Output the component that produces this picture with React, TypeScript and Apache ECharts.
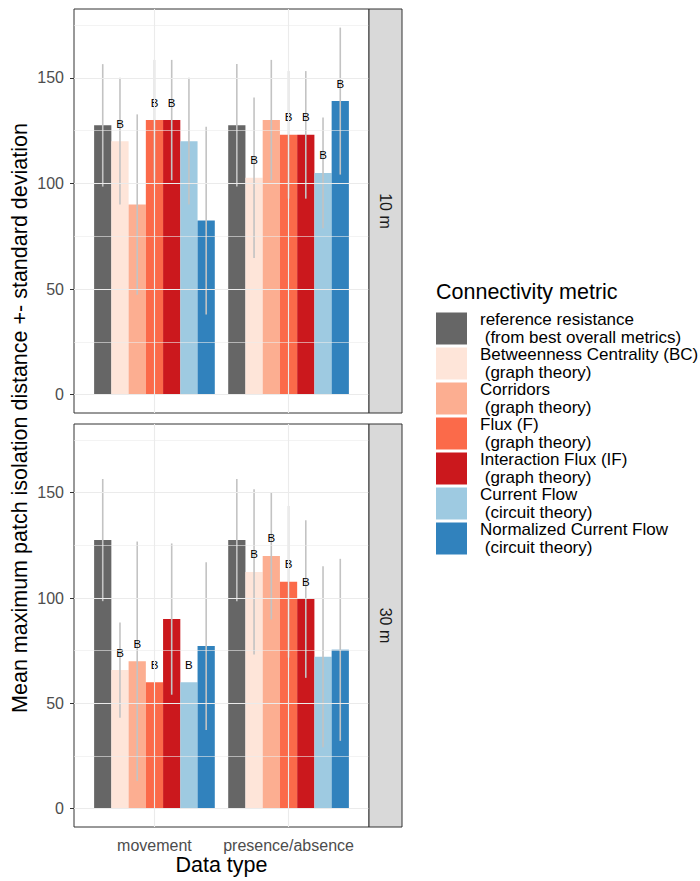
import React, { useEffect, useRef } from 'react';
import * as echarts from 'echarts';

// ---------- data ----------
const categories = ['movement', 'presence/absence'];
const panels = ['10 m', '30 m'];
const metrics = [
  'reference resistance\n (from best overall metrics)',
  'Betweenness Centrality (BC)\n (graph theory)',
  'Corridors\n (graph theory)',
  'Flux (F)\n (graph theory)',
  'Interaction Flux (IF)\n (graph theory)',
  'Current Flow\n (circuit theory)',
  'Normalized Current Flow\n (circuit theory)',
];
const colors = ['#666666', '#FEE5D9', '#FCAE91', '#FB6A4A', '#CB181D', '#9ECAE1', '#3182BD'];

// 10 m panel
const mean10Movement = [127.5, 120, 90, 130, 130, 120, 82.4];
const sd10Movement = [29, 30, 42.7, 28.5, 28.5, 30, 44.5];
const sig10Movement = ['', 'B', '', 'B', 'B', '', ''];
const mean10Presence = [127.5, 102.7, 130, 123, 123, 105, 139];
const sd10Presence = [29, 38, 28.5, 30.2, 30.2, 26.2, 34.8];
const sig10Presence = ['', 'B', '', 'B', 'B', 'B', 'B'];

// 30 m panel
const mean30Movement = [127.5, 65.8, 70, 60, 90, 60, 77.2];
const sd30Movement = [29, 22.6, 56.8, 0, 35.9, 0, 39.8];
const sig30Movement = ['', 'B', 'B', 'B', '', 'B', ''];
const mean30Presence = [127.5, 112.4, 120, 107.7, 99.5, 72.1, 75.4];
const sd30Presence = [29, 39.2, 30.2, 36, 37.4, 43, 43.2];
const sig30Presence = ['', 'B', 'B', 'B', 'B', '', ''];

const yMajorTicks = [0, 50, 100, 150];
const yMinorTicks = [25, 75, 125, 175];
const yMin = -8.7;
const yMax = 182.6;

const panelData = [
  { means: [mean10Movement, mean10Presence], sds: [sd10Movement, sd10Presence], sigs: [sig10Movement, sig10Presence] },
  { means: [mean30Movement, mean30Presence], sds: [sd30Movement, sd30Presence], sigs: [sig30Movement, sig30Presence] },
];

// ---------- layout ----------
const FONT = 'Liberation Sans, Arial, Helvetica, sans-serif';
const FRAME_LEFT = 74;
const FRAME_WIDTH = 295;
const PANEL_TOPS = [9, 424];
const PANEL_HEIGHTS = [404, 403];
const X_MIN = 0.4;
const X_MAX = 2.6;
const BAR_LEFT = FRAME_LEFT + ((0.5 - X_MIN) / (X_MAX - X_MIN)) * FRAME_WIDTH;
const BAR_WIDTH = (2 / (X_MAX - X_MIN)) * FRAME_WIDTH;
const STRIP_W = 33;

export default function App() {
  const ref = useRef<HTMLDivElement>(null);

  useEffect(() => {
    if (!ref.current) return;
    const chart = echarts.init(ref.current, null, { renderer: 'svg' });

    const grid: any[] = [];
    const xAxis: any[] = [];
    const yAxis: any[] = [];
    const series: any[] = [];
    const graphic: any[] = [];

    panelData.forEach((pd, p) => {
      const top = PANEL_TOPS[p];
      const height = PANEL_HEIGHTS[p];
      const isBottom = p === panelData.length - 1;
      grid.push({ left: FRAME_LEFT, top, width: FRAME_WIDTH, height, show: true, borderColor: '#333333', borderWidth: 1, backgroundColor: 'transparent' });
      grid.push({ left: BAR_LEFT, top, width: BAR_WIDTH, height, show: false });

      xAxis.push({
        type: 'value', gridIndex: 2 * p, min: X_MIN, max: X_MAX,
        axisLine: { show: false }, splitLine: { show: false },
        axisTick: { show: isBottom, customValues: [1, 2], length: 4, lineStyle: { color: '#333333' } },
        axisLabel: {
          show: isBottom, customValues: [1, 2], fontSize: 16, color: '#4d4d4d', margin: 10, fontFamily: FONT,
          formatter: (v: number) => categories[Math.round(v) - 1] ?? '',
        },
      });
      xAxis.push({ type: 'category', gridIndex: 2 * p + 1, data: categories, show: false });

      yAxis.push({
        type: 'value', gridIndex: 2 * p, min: yMin, max: yMax,
        axisLine: { show: false }, splitLine: { show: false },
        axisTick: { show: true, customValues: yMajorTicks, length: 4, lineStyle: { color: '#333333' } },
        axisLabel: { customValues: yMajorTicks, fontSize: 16, color: '#4d4d4d', margin: 10, fontFamily: FONT },
      });
      yAxis.push({ type: 'value', gridIndex: 2 * p + 1, min: yMin, max: yMax, show: false });

      // gridlines
      series.push({
        type: 'line', xAxisIndex: 2 * p, yAxisIndex: 2 * p, data: [], silent: true, z: 1,
        markLine: {
          silent: true, symbol: 'none', label: { show: false }, animation: false,
          data: [
            ...yMinorTicks.map((v) => ({ yAxis: v, lineStyle: { color: '#ebebeb', width: 0.6, type: 'solid' } })),
            ...yMajorTicks.map((v) => ({ yAxis: v, lineStyle: { color: '#ebebeb', width: 1.1, type: 'solid' } })),
            ...[1, 2].map((v) => ({ xAxis: v, lineStyle: { color: '#ebebeb', width: 1.1, type: 'solid' } })),
          ],
        },
      });

      // bars
      metrics.forEach((name, k) => {
        series.push({
          type: 'bar', name, xAxisIndex: 2 * p + 1, yAxisIndex: 2 * p + 1,
          data: [pd.means[0][k], pd.means[1][k]],
          itemStyle: { color: colors[k] },
          barGap: '0%', barCategoryGap: '10%', z: 2, silent: true,
        });
      });

      // error bars + significance letters
      const items: number[][] = [];
      const sigList: string[] = [];
      [0, 1].forEach((c) => {
        metrics.forEach((_, k) => {
          items.push([c, pd.means[c][k], pd.sds[c][k], k]);
          sigList.push(pd.sigs[c][k]);
        });
      });
      series.push({
        type: 'custom', xAxisIndex: 2 * p + 1, yAxisIndex: 2 * p + 1, z: 3, silent: true,
        data: items,
        renderItem: (params: any, api: any) => {
          const c = api.value(0);
          const m = api.value(1);
          const sd = api.value(2);
          const k = api.value(3);
          const band = api.size([1, 0])[0];
          const barW = (band * 0.9) / metrics.length;
          const base = api.coord([c, m]);
          const x = base[0] + (k - (metrics.length - 1) / 2) * barW;
          const children: any[] = [];
          if (sd > 0) {
            const yt = api.coord([c, m + sd])[1];
            const yb = api.coord([c, m - sd])[1];
            children.push({ type: 'line', shape: { x1: x, y1: yt, x2: x, y2: yb }, style: { stroke: '#c3c3c3', lineWidth: 1.6 } });
          }
          const sig = sigList[params.dataIndex];
          if (sig) {
            children.push({
              type: 'text', x, y: base[1] - 17.5,
              style: { text: sig, fill: '#000000', stroke: 'transparent', lineWidth: 0, fontSize: 11.5, fontFamily: FONT, align: 'center', verticalAlign: 'middle' },
            });
          }
          return { type: 'group', children };
        },
      });

      // facet strip
      graphic.push({ type: 'rect', shape: { x: FRAME_LEFT + FRAME_WIDTH, y: top, width: STRIP_W, height }, style: { fill: '#d9d9d9', stroke: '#333333', lineWidth: 1 }, z: 10 });
      graphic.push({
        type: 'text', x: FRAME_LEFT + FRAME_WIDTH + STRIP_W / 2, y: top + height / 2, rotation: -Math.PI / 2, z: 11,
        style: { text: panels[p], fill: '#1a1a1a', fontSize: 16, fontFamily: FONT, align: 'center', verticalAlign: 'middle' },
      });
    });

    graphic.push({
      type: 'text', x: 20, y: (PANEL_TOPS[0] + PANEL_TOPS[1] + PANEL_HEIGHTS[1]) / 2, rotation: Math.PI / 2,
      style: { text: 'Mean maximum patch isolation distance +- standard deviation', fill: '#000', fontSize: 21.5, fontFamily: FONT, align: 'center', verticalAlign: 'middle' },
    });
    graphic.push({
      type: 'text', x: FRAME_LEFT + FRAME_WIDTH / 2, y: 865,
      style: { text: 'Data type', fill: '#000', fontSize: 21.5, fontFamily: FONT, align: 'center', verticalAlign: 'middle' },
    });
    graphic.push({
      type: 'text', x: 436, y: 292,
      style: { text: 'Connectivity metric', fill: '#000', fontSize: 21.5, fontFamily: FONT, align: 'left', verticalAlign: 'middle' },
    });

    chart.setOption({
      animation: false,
      backgroundColor: '#ffffff',
      grid, xAxis, yAxis, series, graphic,
      legend: {
        data: metrics, orient: 'vertical', left: 436, top: 311, padding: 0,
        itemWidth: 31, itemHeight: 32, itemGap: 0, icon: 'rect', selectedMode: false,
        textStyle: { fontSize: 17, lineHeight: 17.5, color: '#000', fontFamily: FONT, padding: [0, 0, 0, 8] },
      },
    });

    return () => chart.dispose();
  }, []);

  return <div ref={ref} style={{ position: 'fixed', left: 0, top: 0, width: 700, height: 881 }} />;
}
